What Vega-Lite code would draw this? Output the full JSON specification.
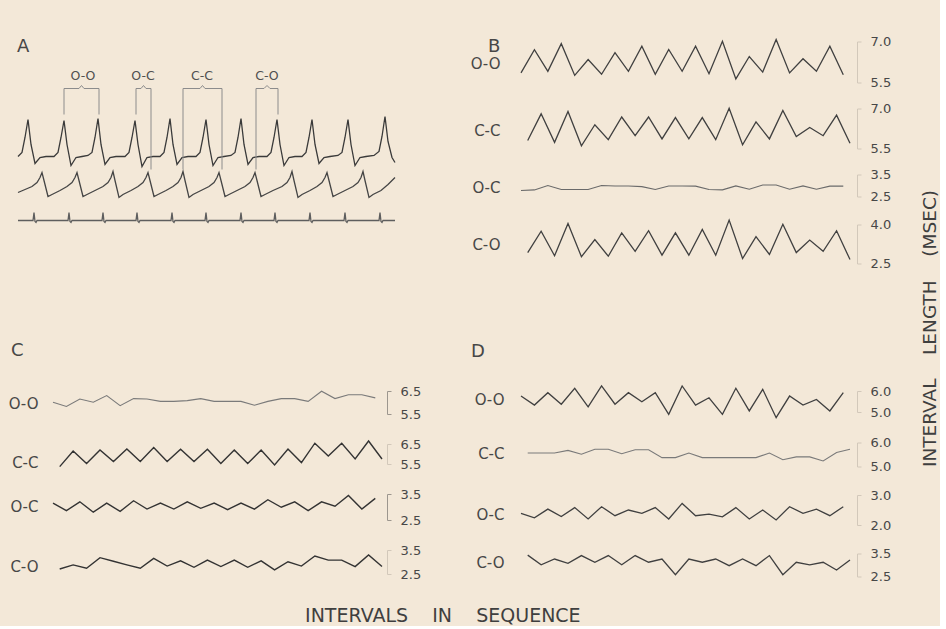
{
"$schema": "https://vega.github.io/schema/vega-lite/v6.json",
"background": "#f3e8d8",
"padding": {"left": 3, "top": 35.5, "right": 0, "bottom": 0},
"title": {"text": "INTERVALS\u00a0\u00a0\u00a0 IN\u00a0\u00a0\u00a0 SEQUENCE", "orient": "bottom", "anchor": "middle", "offset": 23, "dx": -28.5, "baseline": "top", "fontSize": 19, "fontWeight": "normal", "color": "#3f3f3f"},
"spacing": 35,
"hconcat": [
 {"spacing": 111.5, "vconcat": [
  {"width": 427, "height": 188,
   "title": {"text": "A", "anchor": "start", "frame": "group", "offset": -32.5, "dx": 14, "baseline": "bottom", "fontSize": 18},
   "layer": [
    {"data": {"name": "A_traces"}, "mark": {"type": "line", "strokeWidth": 1.3},
     "encoding": {
      "x": {"field": "t", "type": "quantitative", "axis": null, "scale": {"domain": [3, 430], "nice": false, "zero": false}},
      "y": {"field": "a", "type": "quantitative", "axis": null, "scale": {"domain": [0, 188], "nice": false, "zero": false}},
      "detail": {"field": "trace"},
      "color": {"field": "trace", "type": "nominal", "scale": {"domain": ["top", "mid", "bot"], "range": ["#3a3a3a", "#454545", "#5e5e5e"]}, "legend": null}}},
    {"data": {"name": "A_brackets"}, "mark": {"type": "line", "color": "#8c8c8c", "strokeWidth": 1},
     "encoding": {
      "x": {"field": "t", "type": "quantitative", "axis": null},
      "y": {"field": "a", "type": "quantitative", "axis": null},
      "detail": {"field": "b"}, "order": {"field": "k"}}},
    {"data": {"name": "A_labels"}, "mark": {"type": "text", "fontSize": 12.5, "color": "#505050", "baseline": "middle"},
     "encoding": {
      "x": {"field": "t", "type": "quantitative", "axis": null},
      "y": {"field": "a", "type": "quantitative", "axis": null},
      "text": {"field": "label"}}}
   ]},
  {"spacing": 17,
   "title": {"text": "C", "anchor": "start", "frame": "group", "offset": 7.5, "dx": 8, "baseline": "bottom", "fontSize": 18},
   "vconcat": [
    {"width": 379, "height": 23, "data": {"name": "C_OO"}, "mark": {"type": "line", "color": "#7a7a7a", "strokeWidth": 1.1},
     "encoding": {"x": {"field": "i", "type": "quantitative", "axis": null, "scale": {"domain": [-3.723, 24.5], "nice": false, "zero": false}},
      "y": {"field": "v", "type": "quantitative", "scale": {"domain": [5.5, 6.5], "nice": false, "zero": false},
       "axis": {"orient": "right", "values": [5.5, 6.5], "format": ".1f", "offset": 5, "domainColor": "#9c968e", "tickColor": "#9c968e", "title": "O-O", "titleX": -349, "titleY": 12}}}},
    {"width": 379, "height": 20, "data": {"name": "C_CC"}, "mark": {"type": "line", "color": "#333333", "strokeWidth": 1.4},
     "encoding": {"x": {"field": "i", "type": "quantitative", "axis": null, "scale": {"domain": [-4.223, 24.0], "nice": false, "zero": false}},
      "y": {"field": "v", "type": "quantitative", "scale": {"domain": [5.5, 6.5], "nice": false, "zero": false},
       "axis": {"orient": "right", "values": [5.5, 6.5], "format": ".1f", "offset": 5, "domainColor": "#d2c8ba", "tickColor": "#d2c8ba", "title": "C-C", "titleX": -349, "titleY": 18}}}},
    {"width": 379, "height": 26, "data": {"name": "C_OC"}, "mark": {"type": "line", "color": "#333333", "strokeWidth": 1.4},
     "encoding": {"x": {"field": "i", "type": "quantitative", "axis": null, "scale": {"domain": [-3.723, 24.5], "nice": false, "zero": false}},
      "y": {"field": "v", "type": "quantitative", "scale": {"domain": [2.5, 3.5], "nice": false, "zero": false},
       "axis": {"orient": "right", "values": [2.5, 3.5], "format": ".1f", "offset": 5, "domainColor": "#9c968e", "tickColor": "#9c968e", "title": "O-C", "titleX": -349, "titleY": 12}}}},
    {"width": 379, "height": 24, "data": {"name": "C_CO"}, "mark": {"type": "line", "color": "#333333", "strokeWidth": 1.4},
     "encoding": {"x": {"field": "i", "type": "quantitative", "axis": null, "scale": {"domain": [-4.223, 24.0], "nice": false, "zero": false}},
      "y": {"field": "v", "type": "quantitative", "scale": {"domain": [2.5, 3.5], "nice": false, "zero": false},
       "axis": {"orient": "right", "values": [2.5, 3.5], "format": ".1f", "offset": 5, "domainColor": "#d2c8ba", "tickColor": "#d2c8ba", "title": "C-O", "titleX": -349, "titleY": 16}}}}
   ]}
 ]},
 {"spacing": 71.5,
  "title": {"text": "INTERVAL\u00a0\u00a0\u00a0 LENGTH\u00a0\u00a0\u00a0 (MSEC)", "orient": "right", "anchor": "middle", "angle": 270, "baseline": "top", "offset": 12, "dx": -19, "fontSize": 18.5, "fontWeight": "normal", "color": "#3f3f3f"},
  "vconcat": [
  {"spacing": 13,
   "title": {"text": "B", "anchor": "start", "frame": "group", "offset": -38.5, "dx": 23, "baseline": "bottom", "fontSize": 18},
   "vconcat": [
    {"width": 385, "height": 41, "data": {"name": "B_OO"}, "mark": {"type": "line", "color": "#404040", "strokeWidth": 1.3},
     "encoding": {"x": {"field": "i", "type": "quantitative", "axis": null, "scale": {"domain": [-4.17, 24.5], "nice": false, "zero": false}},
      "y": {"field": "v", "type": "quantitative", "scale": {"domain": [5.5, 7.0], "nice": false, "zero": false},
       "axis": {"orient": "right", "values": [5.5, 7.0], "format": ".1f", "offset": 7, "title": "O-O", "titleX": -357, "titleY": 22}}}},
    {"width": 385, "height": 40, "data": {"name": "B_CC"}, "mark": {"type": "line", "color": "#404040", "strokeWidth": 1.3},
     "encoding": {"x": {"field": "i", "type": "quantitative", "axis": null, "scale": {"domain": [-4.67, 24.0], "nice": false, "zero": false}},
      "y": {"field": "v", "type": "quantitative", "scale": {"domain": [5.5, 7.0], "nice": false, "zero": false},
       "axis": {"orient": "right", "values": [5.5, 7.0], "format": ".1f", "offset": 7, "title": "C-C", "titleX": -357, "titleY": 22}}}},
    {"width": 385, "height": 22, "data": {"name": "B_OC"}, "mark": {"type": "line", "color": "#6a6a6a", "strokeWidth": 1.1},
     "encoding": {"x": {"field": "i", "type": "quantitative", "axis": null, "scale": {"domain": [-4.17, 24.5], "nice": false, "zero": false}},
      "y": {"field": "v", "type": "quantitative", "scale": {"domain": [2.5, 3.5], "nice": false, "zero": false},
       "axis": {"orient": "right", "values": [2.5, 3.5], "format": ".1f", "offset": 7, "title": "O-C", "titleX": -357, "titleY": 13}}}},
    {"width": 385, "height": 39, "data": {"name": "B_CO"}, "mark": {"type": "line", "color": "#404040", "strokeWidth": 1.3},
     "encoding": {"x": {"field": "i", "type": "quantitative", "axis": null, "scale": {"domain": [-4.67, 24.0], "nice": false, "zero": false}},
      "y": {"field": "v", "type": "quantitative", "scale": {"domain": [2.5, 4.0], "nice": false, "zero": false},
       "axis": {"orient": "right", "values": [2.5, 4.0], "format": ".1f", "offset": 7, "title": "C-O", "titleX": -357, "titleY": 20}}}}
   ]},
  {"spacing": 15.5,
   "title": {"text": "D", "anchor": "start", "frame": "group", "offset": 4.5, "dx": 6, "baseline": "bottom", "fontSize": 18},
   "vconcat": [
    {"width": 385, "height": 21, "data": {"name": "D_OO"}, "mark": {"type": "line", "color": "#404040", "strokeWidth": 1.3},
     "encoding": {"x": {"field": "i", "type": "quantitative", "axis": null, "scale": {"domain": [-4.17, 24.5], "nice": false, "zero": false}},
      "y": {"field": "v", "type": "quantitative", "scale": {"domain": [5.0, 6.0], "nice": false, "zero": false},
       "axis": {"orient": "right", "values": [5.0, 6.0], "format": ".1f", "offset": 7, "title": "O-O", "titleX": -353, "titleY": 8}}}},
    {"width": 385, "height": 24, "data": {"name": "D_CC"}, "mark": {"type": "line", "color": "#7a7a7a", "strokeWidth": 1.1},
     "encoding": {"x": {"field": "i", "type": "quantitative", "axis": null, "scale": {"domain": [-4.67, 24.0], "nice": false, "zero": false}},
      "y": {"field": "v", "type": "quantitative", "scale": {"domain": [5.0, 6.0], "nice": false, "zero": false},
       "axis": {"orient": "right", "values": [5.0, 6.0], "format": ".1f", "offset": 7, "title": "C-C", "titleX": -353, "titleY": 11}}}},
    {"width": 385, "height": 30, "data": {"name": "D_OC"}, "mark": {"type": "line", "color": "#404040", "strokeWidth": 1.3},
     "encoding": {"x": {"field": "i", "type": "quantitative", "axis": null, "scale": {"domain": [-4.17, 24.5], "nice": false, "zero": false}},
      "y": {"field": "v", "type": "quantitative", "scale": {"domain": [2.0, 3.0], "nice": false, "zero": false},
       "axis": {"orient": "right", "values": [2.0, 3.0], "format": ".1f", "offset": 7, "title": "O-C", "titleX": -353, "titleY": 19}}}},
    {"width": 385, "height": 23, "data": {"name": "D_CO"}, "mark": {"type": "line", "color": "#404040", "strokeWidth": 1.3},
     "encoding": {"x": {"field": "i", "type": "quantitative", "axis": null, "scale": {"domain": [-4.67, 24.0], "nice": false, "zero": false}},
      "y": {"field": "v", "type": "quantitative", "scale": {"domain": [2.5, 3.5], "nice": false, "zero": false},
       "axis": {"orient": "right", "values": [2.5, 3.5], "format": ".1f", "offset": 7, "title": "C-O", "titleX": -353, "titleY": 9}}}}
   ]}
 ]}
],
"datasets": {
 "B_OO": [{"i":0,"v":5.85},{"i":1,"v":6.70},{"i":2,"v":5.91},{"i":3,"v":6.92},{"i":4,"v":5.76},{"i":5,"v":6.34},{"i":6,"v":5.80},{"i":7,"v":6.59},{"i":8,"v":5.91},{"i":9,"v":6.83},{"i":10,"v":5.80},{"i":11,"v":6.71},{"i":12,"v":5.91},{"i":13,"v":6.83},{"i":14,"v":5.82},{"i":15,"v":7.01},{"i":16,"v":5.63},{"i":17,"v":6.45},{"i":18,"v":5.88},{"i":19,"v":7.07},{"i":20,"v":5.85},{"i":21,"v":6.37},{"i":22,"v":5.91},{"i":23,"v":6.83},{"i":24,"v":5.78}],
 "B_CC": [{"i":0,"v":5.80},{"i":1,"v":6.80},{"i":2,"v":5.73},{"i":3,"v":6.89},{"i":4,"v":5.60},{"i":5,"v":6.39},{"i":6,"v":5.83},{"i":7,"v":6.68},{"i":8,"v":5.98},{"i":9,"v":6.68},{"i":10,"v":5.86},{"i":11,"v":6.66},{"i":12,"v":5.86},{"i":13,"v":6.66},{"i":14,"v":5.83},{"i":15,"v":7.01},{"i":16,"v":5.64},{"i":17,"v":6.50},{"i":18,"v":5.86},{"i":19,"v":6.93},{"i":20,"v":5.95},{"i":21,"v":6.29},{"i":22,"v":5.98},{"i":23,"v":6.75},{"i":24,"v":5.70}],
 "B_OC": [{"i":0,"v":2.77},{"i":1,"v":2.80},{"i":2,"v":3.00},{"i":3,"v":2.82},{"i":4,"v":2.82},{"i":5,"v":2.82},{"i":6,"v":3.00},{"i":7,"v":2.98},{"i":8,"v":2.98},{"i":9,"v":2.95},{"i":10,"v":2.82},{"i":11,"v":2.98},{"i":12,"v":2.98},{"i":13,"v":2.97},{"i":14,"v":2.82},{"i":15,"v":2.80},{"i":16,"v":2.98},{"i":17,"v":2.83},{"i":18,"v":3.02},{"i":19,"v":3.02},{"i":20,"v":2.83},{"i":21,"v":2.98},{"i":22,"v":2.83},{"i":23,"v":2.97},{"i":24,"v":2.97}],
 "B_CO": [{"i":0,"v":2.92},{"i":1,"v":3.74},{"i":2,"v":2.80},{"i":3,"v":4.04},{"i":4,"v":2.76},{"i":5,"v":3.42},{"i":6,"v":2.78},{"i":7,"v":3.68},{"i":8,"v":2.97},{"i":9,"v":3.76},{"i":10,"v":2.82},{"i":11,"v":3.68},{"i":12,"v":2.82},{"i":13,"v":3.81},{"i":14,"v":2.82},{"i":15,"v":4.17},{"i":16,"v":2.69},{"i":17,"v":3.53},{"i":18,"v":2.85},{"i":19,"v":4.01},{"i":20,"v":2.92},{"i":21,"v":3.40},{"i":22,"v":2.97},{"i":23,"v":3.76},{"i":24,"v":2.65}],
 "C_OO": [{"i":0,"v":6.01},{"i":1,"v":5.83},{"i":2,"v":6.15},{"i":3,"v":6.01},{"i":4,"v":6.30},{"i":5,"v":5.86},{"i":6,"v":6.17},{"i":7,"v":6.15},{"i":8,"v":6.05},{"i":9,"v":6.05},{"i":10,"v":6.08},{"i":11,"v":6.17},{"i":12,"v":6.05},{"i":13,"v":6.05},{"i":14,"v":6.05},{"i":15,"v":5.88},{"i":16,"v":6.05},{"i":17,"v":6.17},{"i":18,"v":6.17},{"i":19,"v":6.05},{"i":20,"v":6.49},{"i":21,"v":6.17},{"i":22,"v":6.34},{"i":23,"v":6.34},{"i":24,"v":6.20}],
 "C_CC": [{"i":0,"v":5.37},{"i":1,"v":6.15},{"i":2,"v":5.52},{"i":3,"v":6.20},{"i":4,"v":5.62},{"i":5,"v":6.25},{"i":6,"v":5.62},{"i":7,"v":6.32},{"i":8,"v":5.62},{"i":9,"v":6.24},{"i":10,"v":5.62},{"i":11,"v":6.24},{"i":12,"v":5.52},{"i":13,"v":6.20},{"i":14,"v":5.52},{"i":15,"v":6.20},{"i":16,"v":5.45},{"i":17,"v":6.25},{"i":18,"v":5.57},{"i":19,"v":6.54},{"i":20,"v":5.90},{"i":21,"v":6.54},{"i":22,"v":5.75},{"i":23,"v":6.65},{"i":24,"v":5.75}],
 "C_OC": [{"i":0,"v":3.15},{"i":1,"v":2.86},{"i":2,"v":3.20},{"i":3,"v":2.80},{"i":4,"v":3.15},{"i":5,"v":2.83},{"i":6,"v":3.24},{"i":7,"v":2.92},{"i":8,"v":3.15},{"i":9,"v":2.92},{"i":10,"v":3.20},{"i":11,"v":2.95},{"i":12,"v":3.15},{"i":13,"v":2.90},{"i":14,"v":3.15},{"i":15,"v":2.92},{"i":16,"v":3.28},{"i":17,"v":2.99},{"i":18,"v":3.20},{"i":19,"v":2.86},{"i":20,"v":3.20},{"i":21,"v":3.03},{"i":22,"v":3.44},{"i":23,"v":2.92},{"i":24,"v":3.33}],
 "C_CO": [{"i":0,"v":2.71},{"i":1,"v":2.88},{"i":2,"v":2.74},{"i":3,"v":3.18},{"i":4,"v":3.03},{"i":5,"v":2.88},{"i":6,"v":2.74},{"i":7,"v":3.15},{"i":8,"v":2.83},{"i":9,"v":3.05},{"i":10,"v":2.78},{"i":11,"v":3.08},{"i":12,"v":2.81},{"i":13,"v":3.08},{"i":14,"v":2.78},{"i":15,"v":3.05},{"i":16,"v":2.67},{"i":17,"v":3.01},{"i":18,"v":2.83},{"i":19,"v":3.25},{"i":20,"v":3.08},{"i":21,"v":3.08},{"i":22,"v":2.81},{"i":23,"v":3.29},{"i":24,"v":2.81}],
 "D_OO": [{"i":0,"v":5.76},{"i":1,"v":5.33},{"i":2,"v":5.92},{"i":3,"v":5.37},{"i":4,"v":6.13},{"i":5,"v":5.24},{"i":6,"v":6.24},{"i":7,"v":5.37},{"i":8,"v":5.92},{"i":9,"v":5.49},{"i":10,"v":5.92},{"i":11,"v":4.89},{"i":12,"v":6.24},{"i":13,"v":5.33},{"i":14,"v":5.68},{"i":15,"v":4.89},{"i":16,"v":6.13},{"i":17,"v":5.05},{"i":18,"v":6.08},{"i":19,"v":4.73},{"i":20,"v":5.76},{"i":21,"v":5.33},{"i":22,"v":5.60},{"i":23,"v":5.05},{"i":24,"v":5.92}],
 "D_CC": [{"i":0,"v":5.56},{"i":1,"v":5.56},{"i":2,"v":5.56},{"i":3,"v":5.67},{"i":4,"v":5.51},{"i":5,"v":5.72},{"i":6,"v":5.72},{"i":7,"v":5.53},{"i":8,"v":5.70},{"i":9,"v":5.70},{"i":10,"v":5.37},{"i":11,"v":5.37},{"i":12,"v":5.56},{"i":13,"v":5.37},{"i":14,"v":5.37},{"i":15,"v":5.37},{"i":16,"v":5.37},{"i":17,"v":5.37},{"i":18,"v":5.56},{"i":19,"v":5.28},{"i":20,"v":5.40},{"i":21,"v":5.40},{"i":22,"v":5.23},{"i":23,"v":5.58},{"i":24,"v":5.72}],
 "D_OC": [{"i":0,"v":2.39},{"i":1,"v":2.24},{"i":2,"v":2.53},{"i":3,"v":2.28},{"i":4,"v":2.58},{"i":5,"v":2.20},{"i":6,"v":2.61},{"i":7,"v":2.31},{"i":8,"v":2.50},{"i":9,"v":2.39},{"i":10,"v":2.58},{"i":11,"v":2.20},{"i":12,"v":2.72},{"i":13,"v":2.31},{"i":14,"v":2.36},{"i":15,"v":2.27},{"i":16,"v":2.58},{"i":17,"v":2.20},{"i":18,"v":2.50},{"i":19,"v":2.17},{"i":20,"v":2.61},{"i":21,"v":2.39},{"i":22,"v":2.53},{"i":23,"v":2.31},{"i":24,"v":2.61}],
 "D_CO": [{"i":0,"v":3.43},{"i":1,"v":3.01},{"i":2,"v":3.26},{"i":3,"v":3.07},{"i":4,"v":3.41},{"i":5,"v":3.12},{"i":6,"v":3.41},{"i":7,"v":3.01},{"i":8,"v":3.41},{"i":9,"v":3.12},{"i":10,"v":3.26},{"i":11,"v":2.58},{"i":12,"v":3.26},{"i":13,"v":3.12},{"i":14,"v":3.26},{"i":15,"v":2.97},{"i":16,"v":3.26},{"i":17,"v":2.97},{"i":18,"v":3.41},{"i":19,"v":2.58},{"i":20,"v":3.12},{"i":21,"v":3.01},{"i":22,"v":3.12},{"i":23,"v":2.78},{"i":24,"v":3.22}],
 "A_labels": [{"label":"O-O","t":83,"a":154},{"label":"O-C","t":143,"a":154},{"label":"C-C","t":202,"a":154},{"label":"C-O","t":267,"a":154}],
 "A_brackets": [
  {"b":"OO","k":0,"t":64,"a":115},{"b":"OO","k":1,"t":64,"a":141},{"b":"OO","k":2,"t":79,"a":141},{"b":"OO","k":3,"t":81.5,"a":144},{"b":"OO","k":4,"t":84,"a":141},{"b":"OO","k":5,"t":99,"a":141},{"b":"OO","k":6,"t":99,"a":115},
  {"b":"OC","k":0,"t":136,"a":115},{"b":"OC","k":1,"t":136,"a":141},{"b":"OC","k":2,"t":141,"a":141},{"b":"OC","k":3,"t":143.5,"a":144},{"b":"OC","k":4,"t":146,"a":141},{"b":"OC","k":5,"t":151,"a":141},{"b":"OC","k":6,"t":151,"a":60},
  {"b":"CC","k":0,"t":183,"a":60},{"b":"CC","k":1,"t":183,"a":141},{"b":"CC","k":2,"t":200,"a":141},{"b":"CC","k":3,"t":202.5,"a":144},{"b":"CC","k":4,"t":205,"a":141},{"b":"CC","k":5,"t":222,"a":141},{"b":"CC","k":6,"t":222,"a":60},
  {"b":"CO","k":0,"t":256,"a":60},{"b":"CO","k":1,"t":256,"a":141},{"b":"CO","k":2,"t":264,"a":141},{"b":"CO","k":3,"t":267,"a":144},{"b":"CO","k":4,"t":270,"a":141},{"b":"CO","k":5,"t":278,"a":141},{"b":"CO","k":6,"t":278,"a":115}],
 "A_traces": [
  {"trace":"top","t":18,"a":73},{"trace":"top","t":22,"a":77},{"trace":"top","t":25,"a":92},{"trace":"top","t":28,"a":110},{"trace":"top","t":31,"a":85},{"trace":"top","t":35,"a":66},{"trace":"top","t":40,"a":72},{"trace":"top","t":46,"a":73},
  {"trace":"top","t":54,"a":73},{"trace":"top","t":58,"a":77},{"trace":"top","t":61,"a":92},{"trace":"top","t":64,"a":109},{"trace":"top","t":67,"a":85},{"trace":"top","t":71,"a":64},{"trace":"top","t":76,"a":72},{"trace":"top","t":82,"a":73},
  {"trace":"top","t":88,"a":74},{"trace":"top","t":92,"a":77},{"trace":"top","t":95,"a":92},{"trace":"top","t":98,"a":111},{"trace":"top","t":101,"a":85},{"trace":"top","t":105,"a":65},{"trace":"top","t":110,"a":72},{"trace":"top","t":116,"a":73},
  {"trace":"top","t":125,"a":73},{"trace":"top","t":129,"a":77},{"trace":"top","t":132,"a":92},{"trace":"top","t":135,"a":109},{"trace":"top","t":138,"a":85},{"trace":"top","t":142,"a":63},{"trace":"top","t":147,"a":72},{"trace":"top","t":153,"a":73},
  {"trace":"top","t":160,"a":73},{"trace":"top","t":164,"a":77},{"trace":"top","t":167,"a":92},{"trace":"top","t":170,"a":111},{"trace":"top","t":173,"a":85},{"trace":"top","t":177,"a":65},{"trace":"top","t":182,"a":72},{"trace":"top","t":188,"a":73},
  {"trace":"top","t":196,"a":73},{"trace":"top","t":200,"a":77},{"trace":"top","t":203,"a":92},{"trace":"top","t":206,"a":110},{"trace":"top","t":209,"a":85},{"trace":"top","t":213,"a":64},{"trace":"top","t":218,"a":72},{"trace":"top","t":224,"a":73},
  {"trace":"top","t":231,"a":74},{"trace":"top","t":235,"a":77},{"trace":"top","t":238,"a":92},{"trace":"top","t":241,"a":111},{"trace":"top","t":244,"a":85},{"trace":"top","t":248,"a":65},{"trace":"top","t":253,"a":72},{"trace":"top","t":259,"a":73},
  {"trace":"top","t":267,"a":73},{"trace":"top","t":271,"a":77},{"trace":"top","t":274,"a":92},{"trace":"top","t":277,"a":110},{"trace":"top","t":280,"a":85},{"trace":"top","t":284,"a":64},{"trace":"top","t":289,"a":72},{"trace":"top","t":295,"a":73},
  {"trace":"top","t":302,"a":73},{"trace":"top","t":306,"a":77},{"trace":"top","t":309,"a":92},{"trace":"top","t":312,"a":110},{"trace":"top","t":315,"a":85},{"trace":"top","t":319,"a":66},{"trace":"top","t":324,"a":72},{"trace":"top","t":330,"a":73},
  {"trace":"top","t":338,"a":74},{"trace":"top","t":342,"a":77},{"trace":"top","t":345,"a":92},{"trace":"top","t":348,"a":110},{"trace":"top","t":351,"a":85},{"trace":"top","t":355,"a":64},{"trace":"top","t":360,"a":72},{"trace":"top","t":366,"a":73},
  {"trace":"top","t":374,"a":74},{"trace":"top","t":379,"a":78},{"trace":"top","t":382,"a":93},{"trace":"top","t":385,"a":113},{"trace":"top","t":388,"a":88},{"trace":"top","t":392,"a":72},{"trace":"top","t":395,"a":67},
  {"trace":"mid","t":18,"a":37},
  {"trace":"mid","t":32,"a":43},{"trace":"mid","t":37,"a":47},{"trace":"mid","t":40,"a":52},{"trace":"mid","t":42,"a":57},{"trace":"mid","t":44,"a":49},{"trace":"mid","t":48,"a":33},{"trace":"mid","t":52,"a":35},{"trace":"mid","t":60,"a":39},
  {"trace":"mid","t":67,"a":43},{"trace":"mid","t":72,"a":47},{"trace":"mid","t":75,"a":52},{"trace":"mid","t":77,"a":57},{"trace":"mid","t":79,"a":49},{"trace":"mid","t":83,"a":33},{"trace":"mid","t":87,"a":35},{"trace":"mid","t":95,"a":39},
  {"trace":"mid","t":103,"a":43},{"trace":"mid","t":108,"a":47},{"trace":"mid","t":111,"a":52},{"trace":"mid","t":113,"a":58},{"trace":"mid","t":115,"a":49},{"trace":"mid","t":119,"a":32},{"trace":"mid","t":123,"a":35},{"trace":"mid","t":131,"a":39},
  {"trace":"mid","t":138,"a":43},{"trace":"mid","t":143,"a":47},{"trace":"mid","t":146,"a":52},{"trace":"mid","t":148,"a":57},{"trace":"mid","t":150,"a":49},{"trace":"mid","t":154,"a":33},{"trace":"mid","t":158,"a":35},{"trace":"mid","t":166,"a":39},
  {"trace":"mid","t":173,"a":43},{"trace":"mid","t":178,"a":47},{"trace":"mid","t":181,"a":52},{"trace":"mid","t":183,"a":58},{"trace":"mid","t":185,"a":49},{"trace":"mid","t":189,"a":32},{"trace":"mid","t":193,"a":35},{"trace":"mid","t":201,"a":39},
  {"trace":"mid","t":209,"a":43},{"trace":"mid","t":214,"a":47},{"trace":"mid","t":217,"a":52},{"trace":"mid","t":219,"a":57},{"trace":"mid","t":221,"a":49},{"trace":"mid","t":225,"a":33},{"trace":"mid","t":229,"a":35},{"trace":"mid","t":237,"a":39},
  {"trace":"mid","t":245,"a":43},{"trace":"mid","t":250,"a":47},{"trace":"mid","t":253,"a":52},{"trace":"mid","t":255,"a":57},{"trace":"mid","t":257,"a":49},{"trace":"mid","t":261,"a":33},{"trace":"mid","t":265,"a":35},{"trace":"mid","t":273,"a":39},
  {"trace":"mid","t":282,"a":43},{"trace":"mid","t":287,"a":47},{"trace":"mid","t":290,"a":52},{"trace":"mid","t":292,"a":58},{"trace":"mid","t":294,"a":49},{"trace":"mid","t":298,"a":32},{"trace":"mid","t":302,"a":35},{"trace":"mid","t":310,"a":39},
  {"trace":"mid","t":317,"a":43},{"trace":"mid","t":322,"a":47},{"trace":"mid","t":325,"a":52},{"trace":"mid","t":327,"a":57},{"trace":"mid","t":329,"a":49},{"trace":"mid","t":333,"a":33},{"trace":"mid","t":337,"a":35},{"trace":"mid","t":345,"a":39},
  {"trace":"mid","t":353,"a":43},{"trace":"mid","t":358,"a":47},{"trace":"mid","t":361,"a":52},{"trace":"mid","t":363,"a":58},{"trace":"mid","t":365,"a":49},{"trace":"mid","t":369,"a":32},{"trace":"mid","t":373,"a":35},{"trace":"mid","t":381,"a":39},{"trace":"mid","t":388,"a":45},{"trace":"mid","t":395,"a":52},
  {"trace":"bot","t":18,"a":9},
  {"trace":"bot","t":33,"a":9},{"trace":"bot","t":34,"a":17},{"trace":"bot","t":35,"a":8},{"trace":"bot","t":36,"a":7},{"trace":"bot","t":37,"a":9},
  {"trace":"bot","t":68,"a":9},{"trace":"bot","t":69,"a":17},{"trace":"bot","t":70,"a":8},{"trace":"bot","t":71,"a":7},{"trace":"bot","t":72,"a":9},
  {"trace":"bot","t":102,"a":9},{"trace":"bot","t":103,"a":17},{"trace":"bot","t":104,"a":8},{"trace":"bot","t":105,"a":7},{"trace":"bot","t":106,"a":9},
  {"trace":"bot","t":136,"a":9},{"trace":"bot","t":137,"a":17},{"trace":"bot","t":138,"a":8},{"trace":"bot","t":139,"a":7},{"trace":"bot","t":140,"a":9},
  {"trace":"bot","t":171,"a":9},{"trace":"bot","t":172,"a":17},{"trace":"bot","t":173,"a":8},{"trace":"bot","t":174,"a":7},{"trace":"bot","t":175,"a":9},
  {"trace":"bot","t":205,"a":9},{"trace":"bot","t":206,"a":17},{"trace":"bot","t":207,"a":8},{"trace":"bot","t":208,"a":7},{"trace":"bot","t":209,"a":9},
  {"trace":"bot","t":240,"a":9},{"trace":"bot","t":241,"a":17},{"trace":"bot","t":242,"a":8},{"trace":"bot","t":243,"a":7},{"trace":"bot","t":244,"a":9},
  {"trace":"bot","t":274,"a":9},{"trace":"bot","t":275,"a":17},{"trace":"bot","t":276,"a":8},{"trace":"bot","t":277,"a":7},{"trace":"bot","t":278,"a":9},
  {"trace":"bot","t":309,"a":9},{"trace":"bot","t":310,"a":17},{"trace":"bot","t":311,"a":8},{"trace":"bot","t":312,"a":7},{"trace":"bot","t":313,"a":9},
  {"trace":"bot","t":344,"a":9},{"trace":"bot","t":345,"a":17},{"trace":"bot","t":346,"a":8},{"trace":"bot","t":347,"a":7},{"trace":"bot","t":348,"a":9},
  {"trace":"bot","t":379,"a":9},{"trace":"bot","t":380,"a":17},{"trace":"bot","t":381,"a":8},{"trace":"bot","t":382,"a":7},{"trace":"bot","t":383,"a":9},
  {"trace":"bot","t":395,"a":9}]
},
"config": {
 "view": {"stroke": null},
 "font": "DejaVu Sans",
 "axis": {"grid": false, "tickSize": 4, "labelPadding": 9, "labelFontSize": 13, "labelColor": "#474747", "labelFont": "DejaVu Sans", "titleFont": "DejaVu Sans", "titleFontSize": 15, "titleFontWeight": "normal", "titleColor": "#474747", "titleAngle": 0, "titleAlign": "right", "titleBaseline": "middle", "domainColor": "#d2c8ba", "tickColor": "#d2c8ba", "labelOverlap": false},
 "title": {"font": "DejaVu Sans", "fontWeight": "normal", "color": "#474747"}
}
}
